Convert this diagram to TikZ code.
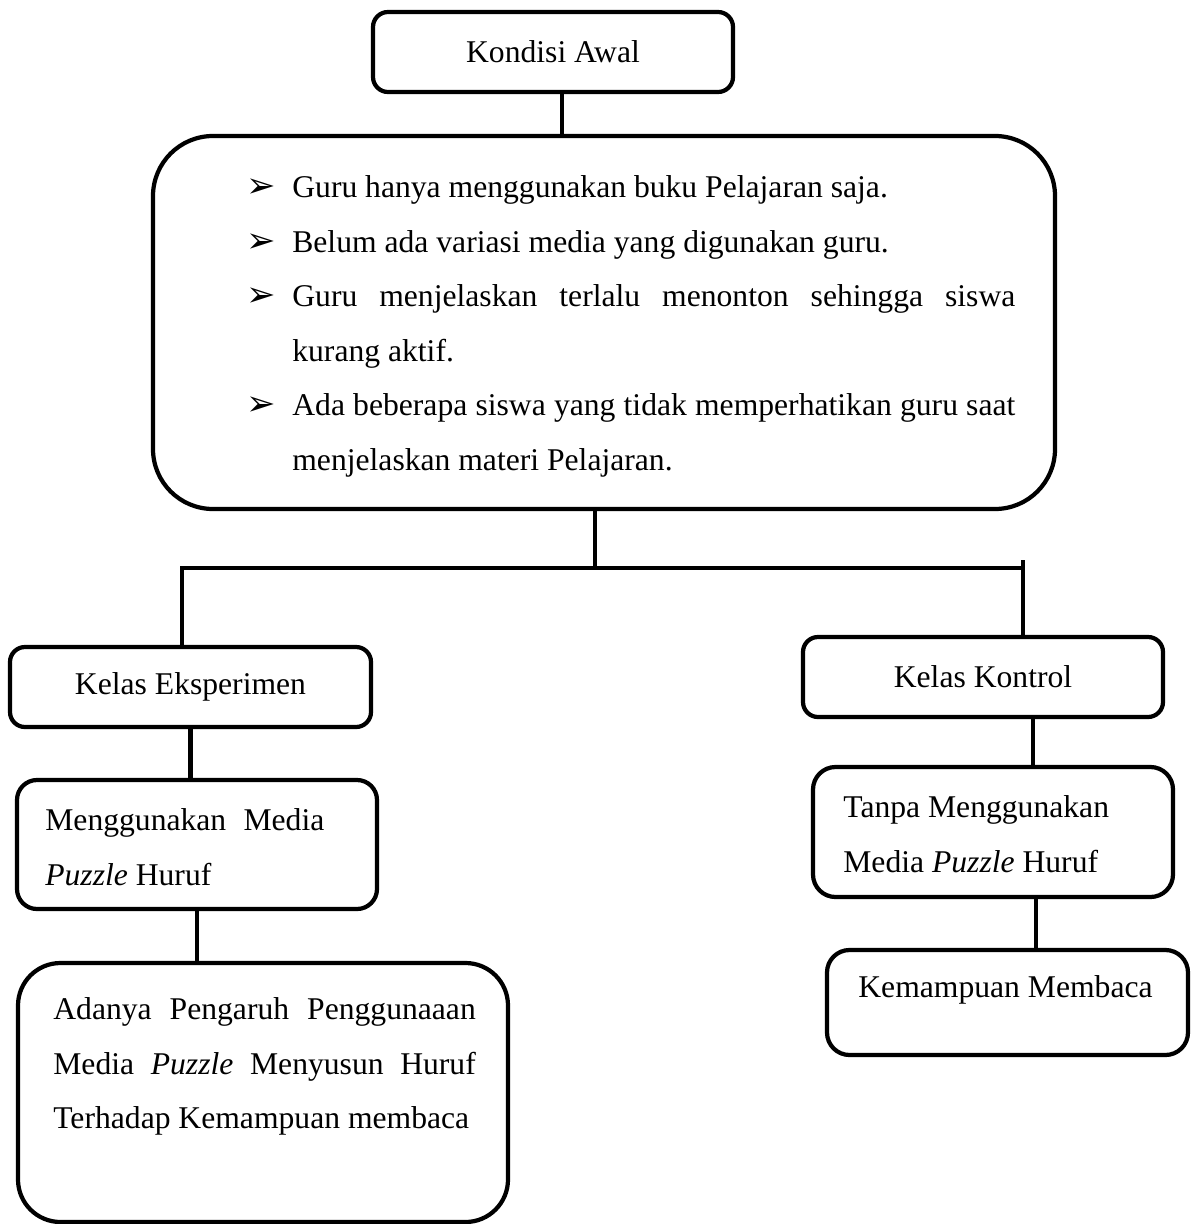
\documentclass[tikz,border=0pt]{standalone}
\usepackage{fontspec}
\setmainfont{Liberation Serif}
\newfontfamily\dejavu{DejaVu Sans}
\usetikzlibrary{positioning,calc}
\newcommand{\panah}{{\dejavu\fontsize{20}{20}\selectfont ➢}}
\newcommand{\poin}{\noindent\hangindent=0.92cm\hangafter=1\makebox[0.92cm][l]{\panah}}
\tikzset{
  box/.style={rectangle,rounded corners=#1,draw=black,line width=2.4pt,fill=white,align=center,inner sep=0pt,font=\fontsize{18}{31}\selectfont},
  box/.default=0.3cm,
  body/.style={inner sep=0pt,font=\fontsize{18}{31}\selectfont},
  link/.style={line width=2.4pt,black}
}

\begin{document}
\begin{tikzpicture}
  \useasboundingbox (0,0) rectangle (23.8,-24.48);
  % top
  \node[box=0.3cm,minimum width=7.2cm,minimum height=1.6cm] (kondisi) at (11.06,-1.04) {Kondisi Awal};
  \node[box=1.2cm,minimum width=18.04cm,minimum height=7.46cm] (masalah) at (12.08,-6.45) {};
  \node[body,anchor=north west,text width=15.38cm,align=justify] (daftar) at (4.92,-3.507) {%
    \poin Guru hanya menggunakan buku Pelajaran saja.\par
    \poin Belum ada variasi media yang digunakan guru.\par
    \poin Guru menjelaskan terlalu menonton sehingga siswa \linebreak kurang aktif.\par
    \poin Ada beberapa siswa yang tidak memperhatikan guru saat \linebreak menjelaskan materi Pelajaran.\par};
  % left branch
  \node[box=0.3cm,minimum width=7.22cm,minimum height=1.6cm] (eksp) at (3.81,-13.74) {Kelas Eksperimen};
  \node[box=0.4cm,minimum width=7.2cm,minimum height=2.58cm] (media) at (3.94,-16.89) {};
  \node[body,anchor=north west,text width=5.58cm,align=justify] (mediateks) at (0.9,-16.167) {Menggunakan Media \linebreak \textit{Puzzle} Huruf\par};
  \node[box=0.85cm,minimum width=9.8cm,minimum height=5.18cm] (hasil) at (5.26,-21.85) {};
  \node[body,anchor=north west,text width=8.45cm,align=justify] (hasilteks) at (1.06,-19.947) {Adanya Pengaruh Penggunaaan \linebreak Media \textit{Puzzle} Menyusun Huruf \linebreak Terhadap Kemampuan membaca\par};
  % right branch
  \node[box=0.3cm,minimum width=7.2cm,minimum height=1.6cm] (kontrol) at (19.66,-13.54) {Kelas Kontrol};
  \node[box=0.45cm,minimum width=7.2cm,minimum height=2.6cm] (tanpa) at (19.86,-16.64) {};
  \node[body,anchor=north west,align=left] (tanpateks) at (16.86,-15.907) {Tanpa Menggunakan\\ Media \textit{Puzzle} Huruf};
  \node[box=0.45cm,minimum width=7.22cm,minimum height=2.1cm] (baca) at (20.15,-20.05) {};
  \node[body,anchor=base] (bacateks) at (20.11,-19.94) {Kemampuan Membaca};
  % connectors
  \coordinate (k1) at ([xshift=0.18cm]kondisi.south);
  \coordinate (hub) at (11.9,-11.36);
  \coordinate (barL) at (3.64,-11.36);
  \coordinate (barR) at (20.46,-11.36);
  \coordinate (barRtop) at (20.46,-11.2);
  \coordinate (k2) at ([xshift=1cm]kontrol.south);
  \coordinate (k3) at ([xshift=0.86cm]tanpa.south);
  \draw[link] (k1) -- (k1 |- masalah.north);
  \draw[link] (hub |- masalah.south) -- (hub);
  \draw[link] (barL |- eksp.north) -- (barL) -- (barR);
  \draw[link] (barRtop) -- (barR |- kontrol.north);
  \draw[link] (eksp.south) -- (eksp.south |- media.north);
  \draw[link] (media.south) -- (media.south |- hasil.north);
  \draw[link] (k2) -- (k2 |- tanpa.north);
  \draw[link] (k3) -- (k3 |- baca.north);
\end{tikzpicture}
\end{document}
